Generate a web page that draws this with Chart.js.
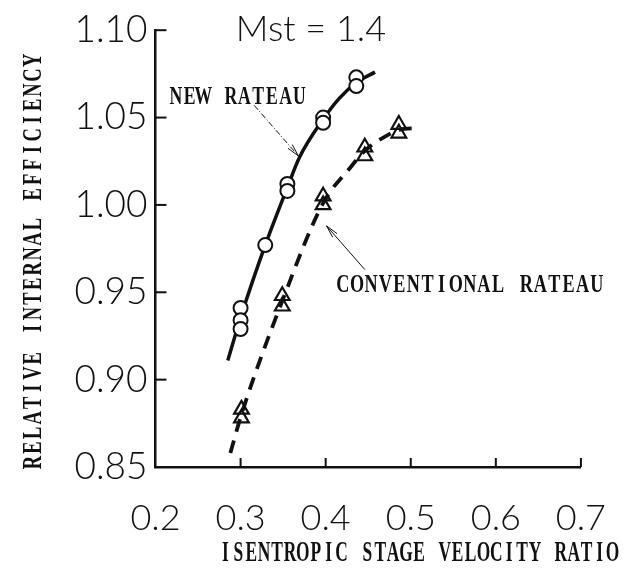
<!DOCTYPE html>
<html>
<head>
<meta charset="utf-8">
<script src="https://cdn.jsdelivr.net/npm/chart.js@4.4.1/dist/chart.umd.min.js"></script>
<style>
html,body{margin:0;padding:0;background:#fff;}
#wrap{width:636px;height:569px;position:relative;}
canvas{display:block;}
</style>
</head>
<body>
<div id="wrap"><canvas id="c" width="636" height="569"></canvas></div>
<script>
// ---- data ----
const xTickLabels = ['0.2','0.3','0.4','0.5','0.6','0.7'];
const yTickLabels = ['0.85','0.90','0.95','1.00','1.05','1.10'];

// NEW RATEAU measured points (circles)
const newX = [0.300, 0.300, 0.300, 0.329, 0.355, 0.355, 0.397, 0.397, 0.436, 0.436];
const newY = [0.941, 0.934, 0.929, 0.977, 1.012, 1.008, 1.050, 1.047, 1.073, 1.068];
// NEW RATEAU faired curve (solid)
const newCurveX = [0.285, 0.301, 0.329, 0.355, 0.369, 0.397, 0.416, 0.436, 0.458];
const newCurveY = [0.911, 0.937, 0.977, 1.010, 1.027, 1.049, 1.061, 1.070, 1.076];

// CONVENTIONAL RATEAU measured points (triangles)
const convX = [0.301, 0.301, 0.349, 0.349, 0.397, 0.397, 0.446, 0.446, 0.486, 0.486];
const convY = [0.883, 0.878, 0.948, 0.942, 1.005, 1.000, 1.033, 1.028, 1.046, 1.041];
// CONVENTIONAL RATEAU faired curve (dashed)
const convCurveX = [0.288, 0.301, 0.349, 0.397, 0.430, 0.446, 0.473, 0.486, 0.508];
const convCurveY = [0.858, 0.880, 0.945, 1.001, 1.022, 1.031, 1.040, 1.043, 1.044];

// annotation anchors (data units)
const newLabel = {text:'NEW RATEAU', x:0.216, y:1.0576};
const convLabel = {text:'CONVENTIONAL RATEAU', x:0.412, y:0.950};
const newArrow = {from:[0.316, 1.057], to:[0.368, 1.028]};
const convArrow = {from:[0.446, 0.963], to:[0.401, 0.988]};

const chartTitle = 'Mst = 1.4';
const xTitle = 'ISENTROPIC STAGE VELOCITY RATIO';
const yTitle = 'RELATIVE INTERNAL EFFICIENCY';

const INK = '#111';
const zip = (xs, ys) => xs.map((x, i) => ({x, y: ys[i]}));

function drawTT(ctx, str, x, y, pitch, fs, sx, weight) {
  ctx.save();
  ctx.font = (weight || 'normal') + ' ' + fs + 'px "Liberation Serif", "DejaVu Serif", serif';
  ctx.textAlign = 'center';
  ctx.textBaseline = 'alphabetic';
  ctx.fillStyle = INK;
  for (let i = 0; i < str.length; i++) {
    const ch = str[i];
    if (ch === ' ') continue;
    ctx.save();
    ctx.translate(x + pitch * (i + 0.5), y);
    ctx.scale(sx, 1);
    ctx.fillText(ch, 0, 0);
    ctx.restore();
  }
  ctx.restore();
}

function arrow(ctx, x1, y1, x2, y2, dash) {
  ctx.save();
  ctx.strokeStyle = INK;
  ctx.lineWidth = 1;
  ctx.setLineDash(dash || []);
  ctx.beginPath(); ctx.moveTo(x1, y1); ctx.lineTo(x2, y2); ctx.stroke();
  ctx.setLineDash([]);
  const a = Math.atan2(y2 - y1, x2 - x1);
  const L = 13, s = 0.22;
  ctx.beginPath();
  ctx.moveTo(x2 - L * Math.cos(a - s), y2 - L * Math.sin(a - s));
  ctx.lineTo(x2, y2);
  ctx.lineTo(x2 - L * Math.cos(a + s), y2 - L * Math.sin(a + s));
  ctx.stroke();
  ctx.restore();
}

const decor = {
  id: 'decor',
  afterDatasetsDraw(chart) {
    const ctx = chart.ctx;
    const xs = chart.scales.x, ys = chart.scales.y;
    const ca = chart.chartArea;
    // inward tick marks
    ctx.save();
    ctx.strokeStyle = INK;
    ctx.lineWidth = 2;
    ys.ticks.forEach((t, i) => {
      const py = ys.getPixelForTick(i);
      if (i === 0) return;
      ctx.beginPath(); ctx.moveTo(ca.left, py); ctx.lineTo(ca.left + 11, py); ctx.stroke();
    });
    xs.ticks.forEach((t, i) => {
      const px = xs.getPixelForTick(i);
      if (i === 0) return;
      ctx.beginPath(); ctx.moveTo(px, ca.bottom); ctx.lineTo(px, ca.bottom - 9); ctx.stroke();
    });
    ctx.restore();

    // title
    ctx.save();
    ctx.fillStyle = INK;
    ctx.font = '300 36px Lato, "Noto Sans", sans-serif';
    ctx.textAlign = 'center';
    ctx.textBaseline = 'alphabetic';
    ctx.fillText(chartTitle, 311, 41);
    ctx.restore();

    // axis titles
    drawTT(ctx, xTitle, 219, 561, 12.9, 30, 0.58, 'bold');
    ctx.save();
    ctx.translate(41, 470);
    ctx.rotate(-Math.PI / 2);
    drawTT(ctx, yTitle, 0, 0, 14.9, 28, 0.66, 'bold');
    ctx.restore();

    // labels
    drawTT(ctx, newLabel.text, xs.getPixelForValue(newLabel.x), ys.getPixelForValue(newLabel.y), 13.7, 26, 0.68, 'bold');
    drawTT(ctx, convLabel.text, xs.getPixelForValue(convLabel.x), ys.getPixelForValue(convLabel.y), 14.1, 26, 0.7, 'bold');

    // arrows
    arrow(ctx, xs.getPixelForValue(newArrow.from[0]), ys.getPixelForValue(newArrow.from[1]),
               xs.getPixelForValue(newArrow.to[0]), ys.getPixelForValue(newArrow.to[1]), [6, 2, 1, 2]);
    arrow(ctx, xs.getPixelForValue(convArrow.from[0]), ys.getPixelForValue(convArrow.from[1]),
               xs.getPixelForValue(convArrow.to[0]), ys.getPixelForValue(convArrow.to[1]));
  }
};

new Chart(document.getElementById('c'), {
  type: 'scatter',
  data: {
    datasets: [
      {
        label: 'NEW RATEAU points',
        data: zip(newX, newY),
        pointStyle: 'circle',
        pointRadius: 7,
        pointBorderWidth: 2,
        pointBorderColor: INK,
        pointBackgroundColor: '#fff',
        showLine: false,
        order: 0
      },
      {
        label: 'CONVENTIONAL RATEAU points',
        data: zip(convX, convY),
        pointStyle: 'triangle',
        pointRadius: 8.5,
        pointBorderWidth: 2.2,
        pointBorderColor: INK,
        pointBackgroundColor: 'rgba(255,255,255,0)',
        showLine: false,
        order: 0
      },
      {
        label: 'NEW RATEAU',
        data: zip(newCurveX, newCurveY),
        showLine: true,
        borderColor: INK,
        borderWidth: 3.5,
        pointRadius: 0,
        cubicInterpolationMode: 'monotone',
        order: 1
      },
      {
        label: 'CONVENTIONAL RATEAU',
        data: zip(convCurveX, convCurveY),
        showLine: true,
        borderColor: INK,
        borderWidth: 3.8,
        borderDash: [13, 9],
        pointRadius: 0,
        cubicInterpolationMode: 'monotone',
        order: 1
      }
    ]
  },
  options: {
    responsive: false,
    animation: false,
    events: [],
    layout: { padding: { top: 25, right: 30, left: 0, bottom: 0 } },
    plugins: { legend: { display: false }, tooltip: { enabled: false }, title: { display: false } },
    scales: {
      x: {
        type: 'linear', min: 0.2, max: 0.7,
        afterFit(s) { s.height = 102; },
        border: { display: true, color: INK, width: 2.5 },
        grid: { display: false, drawTicks: false },
        ticks: {
          stepSize: 0.1, color: INK, padding: 30,
          font: { family: 'Lato, "Noto Sans", sans-serif', size: 36, weight: '300' },
          callback: (v, i) => xTickLabels[i]
        }
      },
      y: {
        type: 'linear', min: 0.85, max: 1.10,
        afterFit(s) { s.width = 155.5; },
        border: { display: true, color: INK, width: 2.5 },
        grid: { display: false, drawTicks: false },
        ticks: {
          stepSize: 0.05, color: INK, padding: 8,
          font: { family: 'Lato, "Noto Sans", sans-serif', size: 37, weight: '300' },
          callback: (v, i) => yTickLabels[i]
        }
      }
    }
  },
  plugins: [decor]
});
</script>
</body>
</html>
